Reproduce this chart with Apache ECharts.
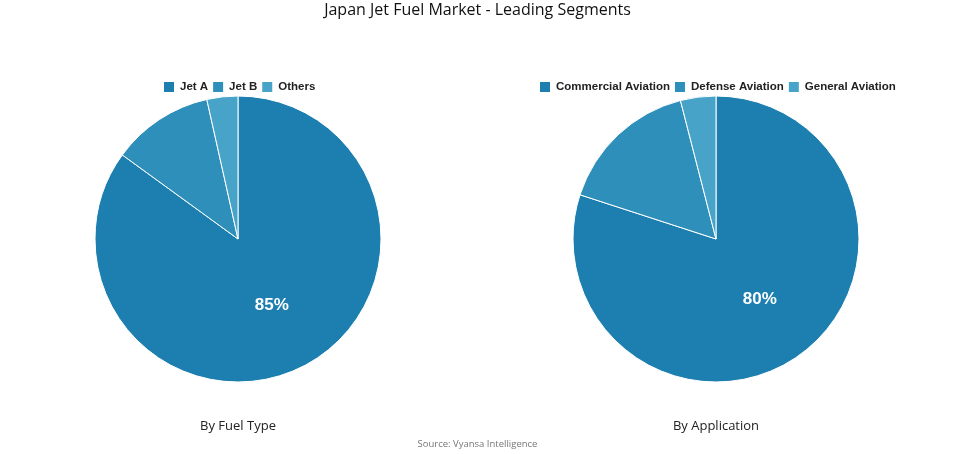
<!DOCTYPE html>
<html><head><meta charset="utf-8">
<script src="https://cdn.jsdelivr.net/npm/echarts@6/dist/echarts.min.js"></script>
<style>html,body{margin:0;padding:0;background:#fff}#c{width:955px;height:454px}</style>
</head><body><div id="c"></div>
<script>
const fuelCategories = ['Jet A', 'Jet B', 'Others'];
const fuelValues = [85, 11.5, 3.5];
const appCategories = ['Commercial Aviation', 'Defense Aviation', 'General Aviation'];
const appValues = [80, 16, 4];
const colors = ['#1c7fb0', '#2e8fbb', '#47a3c8'];

const chart = echarts.init(document.getElementById('c'));
function pieSeries(cats, vals, cx) {
  return {
    type: 'pie', radius: [0, 143], center: [cx, 239], startAngle: 90,
    data: cats.map((n, i) => ({name: n, value: vals[i], itemStyle: {color: colors[i]},
      label: {show: i === 0}})),
    itemStyle: {borderColor: '#fff', borderWidth: 1},
    label: {position: 'inside', formatter: p => Math.round(p.value) + '%', color: '#fff',
      fontSize: 17, fontWeight: 'bold', fontFamily: 'Liberation Sans'},
    labelLine: {show: false}, emphasis: {disabled: true}, animation: false
  };
}
const legendCommon = {top: 75, itemWidth: 12, itemHeight: 12, itemGap: 3, icon: 'rect',
  textStyle: {fontSize: 11.5, fontWeight: 'bold', color: '#222', fontFamily: 'Liberation Sans'}, selectedMode: false};
chart.setOption({
  animation: false,
  title: [
    {text: 'Japan Jet Fuel Market - Leading Segments', left: 'center', top: -3,
      textStyle: {fontSize: 16, fontWeight: 'normal', color: '#111', fontFamily: 'Open Sans'}},
    {text: 'By Fuel Type', left: 233, textAlign: 'center', top: 415,
      textStyle: {fontSize: 13, fontWeight: 'normal', color: '#222', fontFamily: 'Open Sans'}},
    {text: 'By Application', left: 711, textAlign: 'center', top: 415,
      textStyle: {fontSize: 13, fontWeight: 'normal', color: '#222', fontFamily: 'Open Sans'}},
    {text: 'Source: Vyansa Intelligence', left: 'center', top: 434,
      textStyle: {fontSize: 9.5, fontWeight: 'normal', color: '#777', fontFamily: 'Open Sans'}}
  ],
  legend: [
    Object.assign({data: fuelCategories, left: 157}, legendCommon),
    Object.assign({data: appCategories, left: 533}, legendCommon)
  ],
  series: [pieSeries(fuelCategories, fuelValues, 238), pieSeries(appCategories, appValues, 716)]
});
</script></body></html>
